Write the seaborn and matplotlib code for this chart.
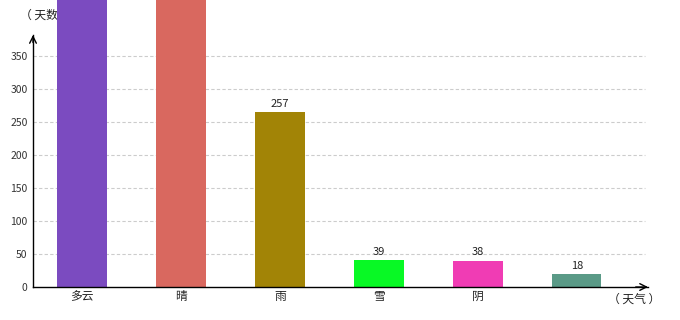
import matplotlib
matplotlib.use("Agg")
import matplotlib.pyplot as plt
import seaborn as sns
import pandas as pd

categories = ["多云", "晴", "雨", "雪", "阴", ""]
values = [900, 700, 265, 41, 40, 20]
value_labels = ["", "", "257", "39", "38", "18"]
colors = ["#7B4BC0", "#D9685F", "#A28406", "#08F925", "#F03CB4", "#5A9A87"]
yticks = [0, 50, 100, 150, 200, 250, 300, 350]

sns.set_theme(style="white")
plt.rcParams['font.family'] = ['Noto Sans CJK SC', 'DejaVu Sans']

df = pd.DataFrame({"cat": [f"{i}_{c}" for i, c in enumerate(categories)], "val": values})

fig = plt.figure(figsize=(6.8, 3.2), dpi=100)
ax = fig.add_axes([33/680, 1 - 287/320, (648 - 33)/680, (287 - 35)/320])

sns.barplot(data=df, x="cat", y="val", hue="cat", palette=colors, width=0.5,
            legend=False, ax=ax, saturation=1)
for p in ax.patches:
    p.set_clip_on(False)
    p.set_linewidth(0)

ax.set_ylim(0, 382)
ax.set_xticks(range(len(categories)))
ax.set_xticklabels(categories, fontsize=8.5, color="#222222")
ax.set_yticks(yticks)
ax.set_yticklabels([str(t) for t in yticks], fontsize=7.5, color="#333333")
ax.set_xlabel("")
ax.set_ylabel("")
ax.set_xlim(-0.495, 5.72)

for y in yticks[1:]:
    ax.axhline(y, xmin=0, xmax=0.995, color="#cccccc", linestyle=(0, (3, 2)), lw=0.8, zorder=0)

for i, (v, lab) in enumerate(zip(values, value_labels)):
    if lab:
        ax.text(i, v + 5, lab, ha="center", va="bottom", fontsize=8, color="#222222")

for s in ["top", "right"]:
    ax.spines[s].set_visible(False)
ax.spines["left"].set_color("black")
ax.spines["bottom"].set_color("black")
ax.spines["left"].set_linewidth(1)
ax.spines["bottom"].set_linewidth(1)
ax.tick_params(axis="y", length=2, pad=2, colors="#333333", width=0.6)
ax.tick_params(axis="x", length=0, pad=2)

ax.annotate("", xy=(0, 1.0), xytext=(0, 0.97), xycoords="axes fraction",
            arrowprops=dict(arrowstyle="->", lw=1, color="black", shrinkA=0, shrinkB=0))
ax.annotate("", xy=(1.0, 0), xytext=(0.98, 0), xycoords="axes fraction",
            arrowprops=dict(arrowstyle="->", lw=1, color="black", shrinkA=0, shrinkB=0))

fig.text(20/680, 1 - 15/320, "（ 天数 ）", fontsize=8.5, va="center", ha="left",
         color="#222222", zorder=-1)
fig.text(608/680, 1 - 299/320, "（ 天气 ）", fontsize=8.5, va="center", ha="left", color="#222222")

fig.savefig("out.png", dpi=100)
